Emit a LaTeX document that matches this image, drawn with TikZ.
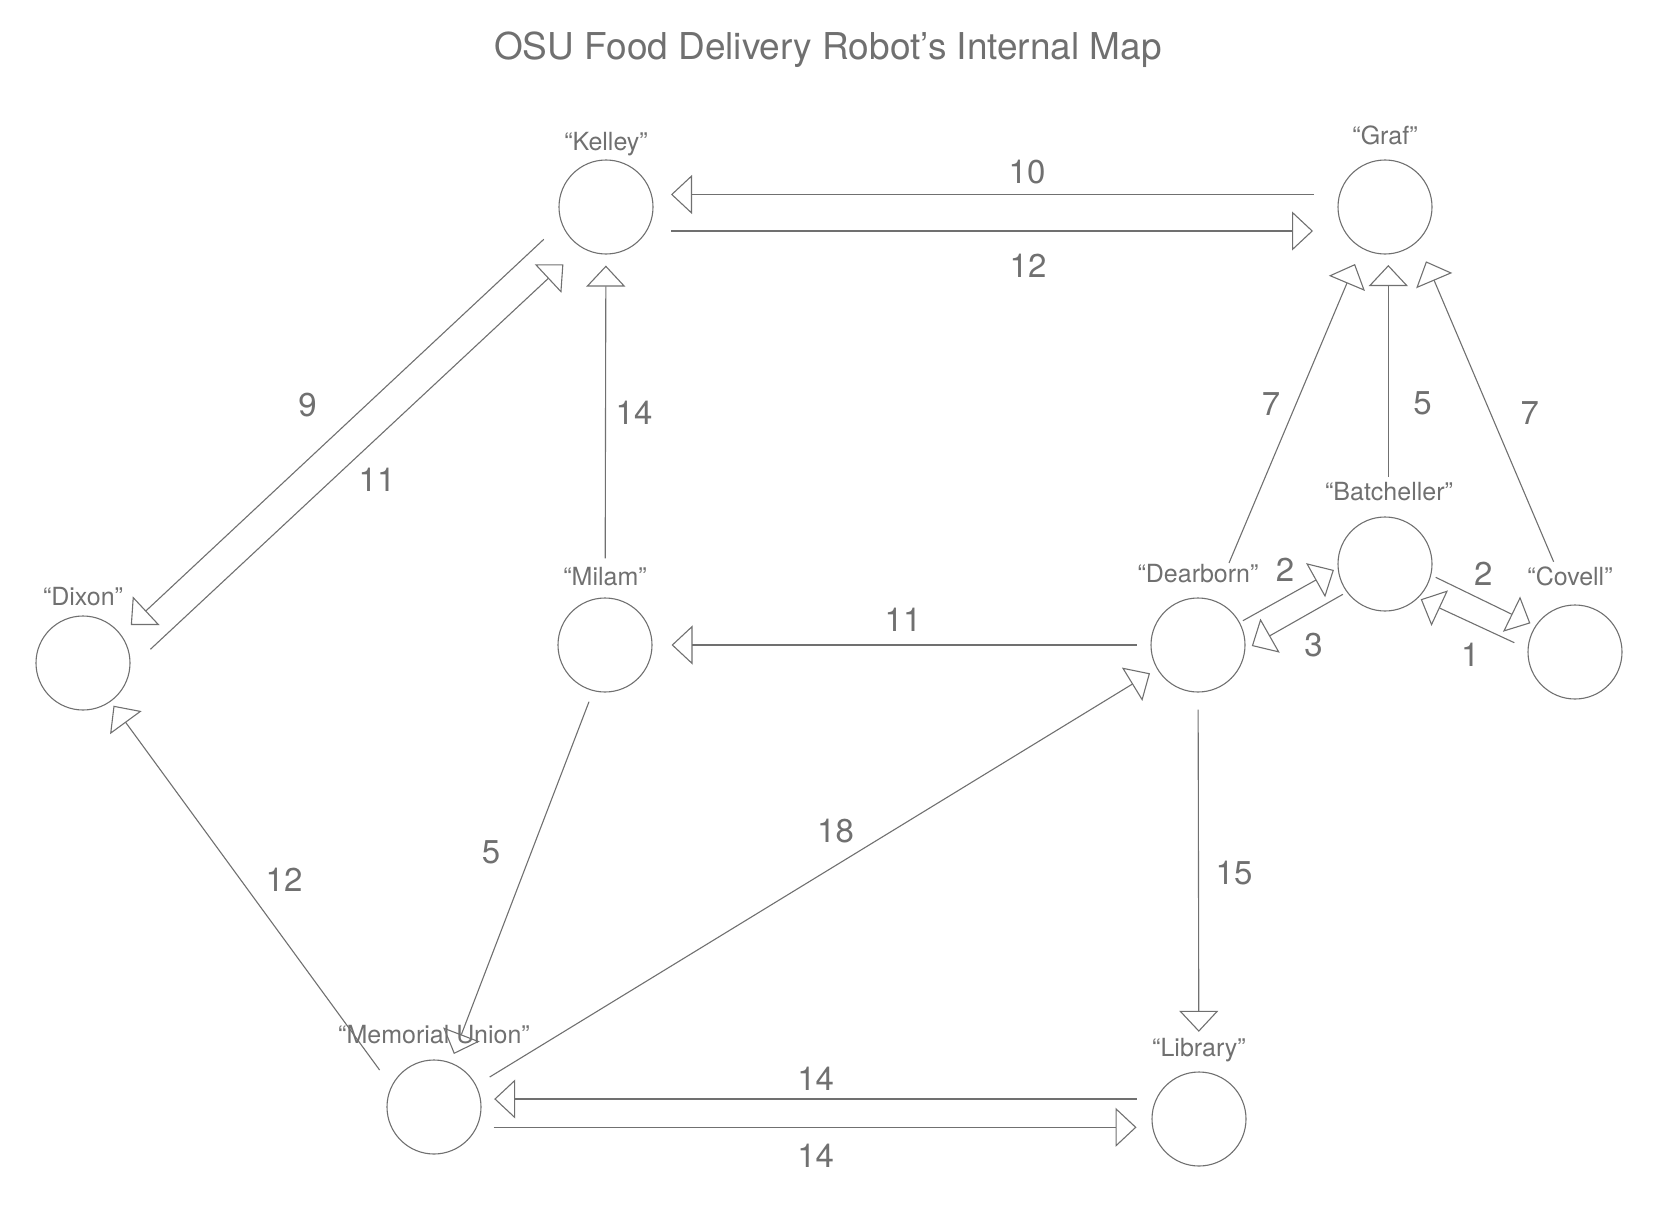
\documentclass[tikz,border=0pt]{standalone}
\usepackage{fontspec}
\setmainfont{TeX Gyre Heros}
\usetikzlibrary{arrows.meta}
\definecolor{mapgray}{RGB}{112,112,112}
\begin{document}
\begin{tikzpicture}[x=1pt, y=1pt, line width=1.1pt, mapgray,
    place/.style={circle, draw, minimum size=94pt, inner sep=0pt},
    link/.style={draw, -{Triangle[open, length=21pt, width=39pt]}},
    wt/.style={inner sep=0pt, font=\fontsize{33}{33}\selectfont},
    every label/.style={inner sep=0pt, text depth=0pt, font=\fontsize{25}{25}\selectfont}]
    \useasboundingbox (0,0) rectangle (1662,-1228);

    \node[anchor=base, font=\fontsize{37}{37}\selectfont] (title) at (828,-60) {OSU Food Delivery Robot’s Internal Map};

    \node[place, label={[label distance=8.5pt]above:“Kelley”}] (kelley) at (606,-207) {};
    \node[place, label={[label distance=14pt]above:“Graf”}] (graf) at (1385,-207) {};
    \node[place, label={[label distance=9.7pt]above:“Dixon”}] (dixon) at (83,-663) {};
    \node[place, label={[label distance=11pt]above:“Milam”}] (milam) at (605,-645) {};
    \node[place, label={[label distance=14pt]above:“Dearborn”}] (dearborn) at (1198,-645) {};
    \node[place, label={[label distance=15pt, xshift=4pt]above:“Batcheller”}] (batch) at (1385,-564) {};
    \node[place, label={[label distance=18pt, xshift=-5pt]above:“Covell”}] (covell) at (1575,-652) {};
    \node[place, label={[label distance=15pt]above:“Memorial Union”}] (mu) at (434,-1107) {};
    \node[place, label={[label distance=14.4pt]above:“Library”}] (library) at (1199,-1119) {};

    \draw[link] ([shift={(-71,12.5)}]graf.center) -- ([shift={(65,12.5)}]kelley.center);
    \draw[link] ([shift={(65,-24)}]kelley.center) -- ([shift={(-72,-24)}]graf.center);
    \draw[link] ([shift={(-62.2,-32.3)}]kelley.center) -- ([shift={(47.8,38)}]dixon.center);
    \draw[link] ([shift={(67.4,13.7)}]dixon.center) -- ([shift={(-42.6,-57.3)}]kelley.center);
    \draw[link, shorten <=39pt, shorten >=11pt] (milam) -- (kelley);
    \draw[link, shorten <=13.5pt, shorten >=19pt] (dearborn) -- (milam);
    \draw[link] ([shift={(-16,-56.7)}]milam.center) -- ([shift={(19.9,53)}]mu.center);
    \draw[link] ([shift={(-54.4,37)}]mu.center) -- ([shift={(30.5,-42.7)}]dixon.center);
    \draw[link] ([shift={(55.7,30)}]mu.center) -- ([shift={(-48,-28.3)}]dearborn.center);
    \draw[link, shorten <=17pt, shorten >=39.6pt] (dearborn) -- (library);
    \draw[link] ([shift={(-62.2,20)}]library.center) -- ([shift={(60.2,8)}]mu.center);
    \draw[link] ([shift={(59.7,-20.3)}]mu.center) -- ([shift={(-62.5,-8.3)}]library.center);
    \draw[link] ([shift={(31,82)}]dearborn.center) -- ([shift={(-30,-57)}]graf.center);
    \draw[link] ([shift={(3.3,87)}]batch.center) -- ([shift={(3.3,-58)}]graf.center);
    \draw[link] ([shift={(-21.4,90.3)}]covell.center) -- ([shift={(41,-54.3)}]graf.center);
    \draw[link] ([shift={(44.9,24.3)}]dearborn.center) -- ([shift={(-51.1,-6)}]batch.center);
    \draw[link] ([shift={(-42.1,-30.3)}]batch.center) -- ([shift={(53.8,-1)}]dearborn.center);
    \draw[link] ([shift={(50.7,-13.3)}]batch.center) -- ([shift={(-44.6,28.7)}]covell.center);
    \draw[link] ([shift={(-60.7,9.3)}]covell.center) -- ([shift={(35.7,-35.3)}]batch.center);

    \foreach \x/\y/\w [count=\i] in {1027/-172/10, 1028/-265.5/12, 307.5/-405/9, 377/-480/11,
        634/-413/14, 903/-620/11, 491/-852.5/5, 284/-880/12, 835.5/-831/18, 1234/-873/15,
        815.6/-1078.7/14, 815.6/-1155.6/14, 1271/-403.7/7, 1422.6/-403.7/5, 1529.7/-413/7,
        1285/-570/2, 1313.6/-645/3, 1483.4/-574/2, 1470.4/-654.7/1}
      \node[wt] (w\i) at (\x,\y) {\w};
\end{tikzpicture}
\end{document}
